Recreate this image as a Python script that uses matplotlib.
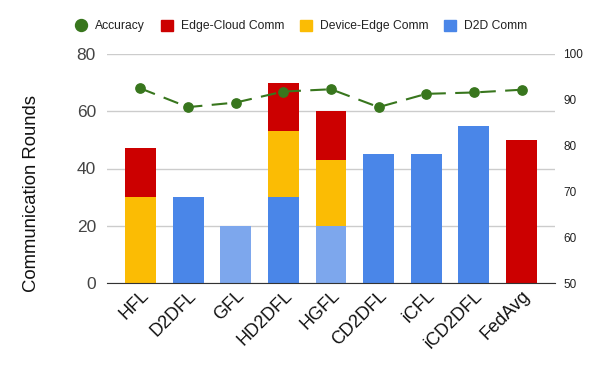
import matplotlib
matplotlib.use("Agg")
import matplotlib.pyplot as plt
from matplotlib.patches import Patch
from matplotlib.lines import Line2D
import numpy as np

plt.rcParams['font.family'] = ['Liberation Sans', 'DejaVu Sans']

categories = ["HFL", "D2DFL", "GFL", "HD2DFL", "HGFL", "CD2DFL", "iCFL", "iCD2DFL", "FedAvg"]
d2d_comm = [0, 30, 20, 30, 20, 45, 45, 55, 0]
device_edge_comm = [30, 0, 0, 23, 23, 0, 0, 0, 0]
edge_cloud_comm = [17, 0, 0, 17, 17, 0, 0, 0, 50]
accuracy = [92.5, 88.4, 89.4, 91.8, 92.3, 88.4, 91.3, 91.6, 92.2]

c_red = "#cc0000"
c_yellow = "#fbbc04"
c_blue = "#4a86e8"
c_lblue = "#7da7ed"
c_green = "#38761d"
d2d_colors = [c_blue, c_blue, c_lblue, c_blue, c_lblue, c_blue, c_blue, c_blue, c_blue]

fig = plt.figure(figsize=(6.01, 3.71), dpi=100)
ax = fig.add_axes([107/601, 1-283/371, (555-107)/601, (283-54)/371])
x = np.arange(len(categories))
w = 0.65
d2d = np.array(d2d_comm)
de = np.array(device_edge_comm)
ec = np.array(edge_cloud_comm)
ax.bar(x, d2d, w, color=d2d_colors, zorder=2)
ax.bar(x, de, w, bottom=d2d, color=c_yellow, zorder=2)
ax.bar(x, ec, w, bottom=d2d+de, color=c_red, zorder=2)

ax.set_xlim(-0.7, len(categories)-1+0.7)
ax.set_ylim(0, 80)
ax.set_yticks([0, 20, 40, 60, 80])
ax.grid(axis='y', color='#cccccc', linewidth=1, zorder=0)
for s in ['top', 'right', 'left']:
    ax.spines[s].set_visible(False)
ax.spines['bottom'].set_color('#333333')
ax.spines['bottom'].set_zorder(3)
ax.tick_params(axis='y', length=0, pad=8, labelsize=12.5, labelcolor='#444444')
ax.tick_params(axis='x', length=0, pad=3)
ax.set_xticks(x)
ax.set_xticklabels(categories, rotation=45, ha='right', rotation_mode='anchor',
                   fontsize=13, color='#111111')
ax.set_ylabel("Communication Rounds", fontsize=13.3, color='#111111')
ax.yaxis.set_label_coords((40-107)/448, (283-194)/229)

ax2 = ax.twinx()
ax2.set_ylim(50, 100)
ax2.set_yticks([50, 60, 70, 80, 90, 100])
for s in ['top', 'right', 'left', 'bottom']:
    ax2.spines[s].set_visible(False)
ax2.tick_params(axis='y', length=0, pad=6, labelsize=8.5, labelcolor='#222222')
ax2.plot(x, accuracy, color=c_green, linestyle=(0, (7.5, 4.5)), linewidth=1.5,
         marker='o', markersize=6.7, zorder=5)

handles = [
    Line2D([], [], color=c_green, marker='o', linestyle='none', markersize=8.6),
    Patch(color=c_red),
    Patch(color=c_yellow),
    Patch(color=c_blue),
]
labels = ["Accuracy", "Edge-Cloud Comm", "Device-Edge Comm", "D2D Comm"]
fig.legend(handles, labels, loc='center', bbox_to_anchor=(301/601, 1-26/371), ncol=4,
           frameon=False, fontsize=8.7, handlelength=1.0, handleheight=1.0,
           handletextpad=0.65, columnspacing=1.3, labelcolor='#222222')

fig.savefig("out.png", dpi=100)
